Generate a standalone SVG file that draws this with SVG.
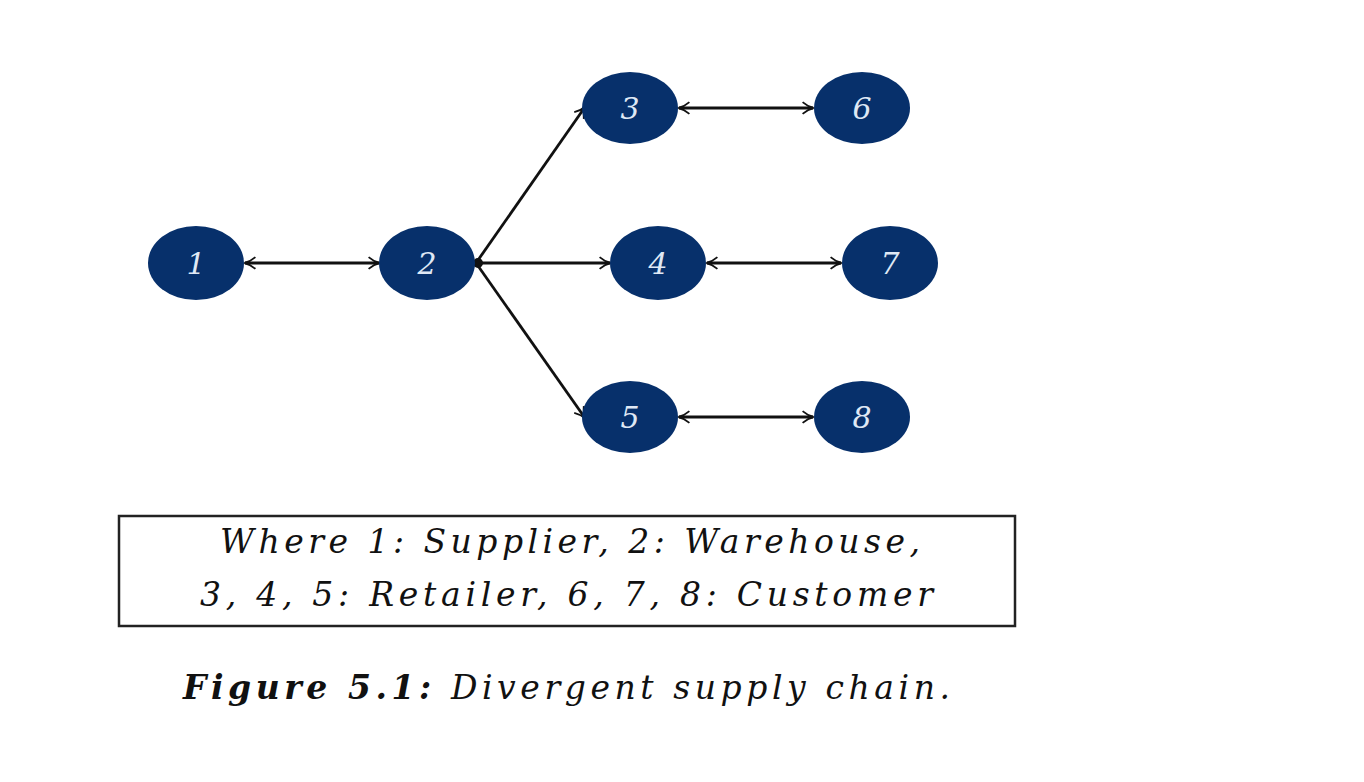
<svg xmlns="http://www.w3.org/2000/svg" width="1364" height="782" viewBox="0 0 1364 782">
<style>
.node ellipse{fill:#07306b}
.node text{fill:#dfe8f5;font-family:"DejaVu Serif",serif;font-style:italic;font-size:30px;text-anchor:middle}
.edge{stroke:#111;stroke-width:2.8;fill:none}
.lbl{font-family:"DejaVu Serif",serif;font-style:italic;font-size:33px;fill:#111}
</style>
<defs>
<marker id="ah" viewBox="0 0 10 10" refX="9" refY="5" markerWidth="13" markerHeight="15" orient="auto-start-reverse" markerUnits="userSpaceOnUse">
<path d="M1,0.5 Q5,4 9.5,5 Q5,6 1,9.5" fill="none" stroke="#111" stroke-width="1.4"/>
</marker>
</defs>
<rect width="1364" height="782" fill="#fff"/>
<g id="connectors">
<line class="edge" x1="245" y1="263" x2="379" y2="263" marker-start="url(#ah)" marker-end="url(#ah)"/>
<line class="edge" x1="476" y1="263" x2="585" y2="107" marker-end="url(#ah)"/>
<line class="edge" x1="476" y1="263" x2="610" y2="263" marker-end="url(#ah)"/>
<line class="edge" x1="476" y1="263" x2="585" y2="418" marker-end="url(#ah)"/>
<line class="edge" x1="679" y1="108" x2="813" y2="108" marker-start="url(#ah)" marker-end="url(#ah)"/>
<line class="edge" x1="707" y1="263" x2="841" y2="263" marker-start="url(#ah)" marker-end="url(#ah)"/>
<line class="edge" x1="679" y1="417" x2="813" y2="417" marker-start="url(#ah)" marker-end="url(#ah)"/>
<circle cx="478" cy="263" r="5" fill="#111"/>
</g>
<g id="n1" class="node"><ellipse cx="196" cy="263" rx="48" ry="37"/><text x="196" y="274">1</text></g>
<g id="n2" class="node"><ellipse cx="427" cy="263" rx="48" ry="37"/><text x="427" y="274">2</text></g>
<g id="n3" class="node"><ellipse cx="630" cy="108" rx="48" ry="36"/><text x="630" y="119">3</text></g>
<g id="n4" class="node"><ellipse cx="658" cy="263" rx="48" ry="37"/><text x="658" y="274">4</text></g>
<g id="n5" class="node"><ellipse cx="630" cy="417" rx="48" ry="36"/><text x="630" y="428">5</text></g>
<g id="n6" class="node"><ellipse cx="862" cy="108" rx="48" ry="36"/><text x="862" y="119">6</text></g>
<g id="n7" class="node"><ellipse cx="890" cy="263" rx="48" ry="37"/><text x="890" y="274">7</text></g>
<g id="n8" class="node"><ellipse cx="862" cy="417" rx="48" ry="36"/><text x="862" y="428">8</text></g>
<g id="legend">
<rect x="119" y="516" width="896" height="110" fill="none" stroke="#222" stroke-width="2.5"/>
<text class="lbl" x="220" y="553" textLength="700" lengthAdjust="spacing">Where 1: Supplier, 2: Warehouse,</text>
<text class="lbl" x="200" y="606" textLength="733" lengthAdjust="spacing">3, 4, 5: Retailer, 6, 7, 8: Customer</text>
</g>
<g id="caption">
<text class="lbl" x="183" y="699" textLength="767" lengthAdjust="spacing"><tspan font-weight="bold">Figure 5.1:</tspan> Divergent supply chain.</text>
</g>
</svg>
